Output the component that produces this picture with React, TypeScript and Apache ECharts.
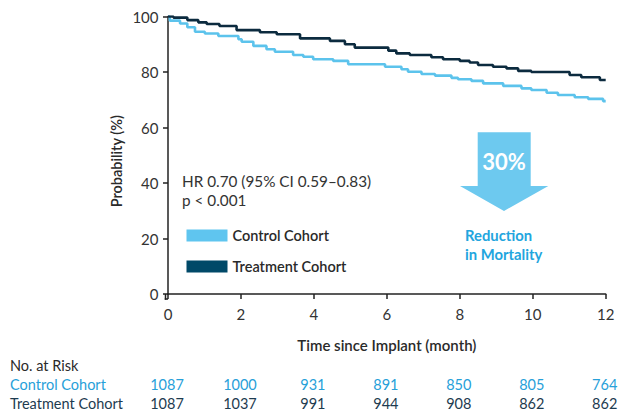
import React, { useEffect, useRef } from "react";
import * as echarts from "echarts";

// Kaplan–Meier survival estimates (months, % surviving)
const controlMonths = [0, 0.05, 0.33, 0.53, 0.74, 1.01, 1.38, 1.93, 2.02, 2.34, 2.7, 2.93, 3.43, 3.71, 3.98, 4.53, 4.94, 5.95, 6.4, 6.58, 6.95, 7.32, 7.77, 7.95, 8.32, 8.64, 9.19, 9.69, 9.96, 10.38, 10.69, 11.15, 11.52, 11.93, 12];
const controlSurvival = [100, 98.5, 97.5, 96.1, 94.5, 93.9, 93.0, 91.8, 90.9, 89.4, 88.2, 87.3, 86.1, 85.5, 84.6, 84.0, 82.8, 81.9, 81.0, 80.1, 79.3, 78.7, 77.9, 77.4, 76.8, 75.9, 75.0, 74.1, 73.5, 72.5, 71.7, 70.9, 70.3, 69.5, 69.5];

const treatmentMonths = [0, 0.15, 0.53, 0.83, 1.06, 1.41, 1.88, 2.52, 2.98, 3.62, 4.44, 4.85, 5.12, 6.04, 6.26, 6.63, 7.22, 7.54, 8.0, 8.27, 8.5, 8.91, 9.28, 9.6, 9.96, 11.01, 11.33, 11.84, 12];
const treatmentSurvival = [100, 99.6, 98.7, 97.9, 97.3, 96.6, 95.1, 94.3, 93.6, 92.1, 91.2, 90.0, 88.8, 87.7, 86.7, 86.1, 85.3, 84.6, 84.0, 83.4, 82.5, 81.9, 81.3, 80.4, 80.0, 78.9, 78.1, 77.1, 77.1];

// Number-at-risk table
const riskMonths = [0, 2, 4, 6, 8, 10, 12];
const controlAtRisk = [1087, 1000, 931, 891, 850, 805, 764];
const treatmentAtRisk = [1087, 1037, 991, 944, 908, 862, 862];

const seriesNames = ["Control Cohort", "Treatment Cohort"];
const reductionLabel = "30%";

const FONT = "Lato, 'Open Sans', sans-serif";
const CONTROL_LINE = "#5cc3ec";
const TREATMENT_LINE = "#0c2b3f";
const CONTROL_SWATCH = "#5fc5ef";
const TREATMENT_SWATCH = "#004968";
const CONTROL_TEXT = "#27a0d9";
const TREATMENT_TEXT = "#1d3b50";
const INK = "#2a2a2a";

const zip = (xs: number[], ys: number[]) => xs.map((x, i) => [x, ys[i]]);

export default function App() {
  const ref = useRef<HTMLDivElement>(null);

  useEffect(() => {
    if (!ref.current) return;
    const chart = echarts.init(ref.current, undefined, { renderer: "svg" });

    chart.setOption({
      animation: false,
      textStyle: { fontFamily: FONT },
      grid: { left: 168, right: 18.3, top: 16.5, bottom: 120 },
      xAxis: {
        type: "value",
        min: 0,
        max: 12,
        interval: 2,
        offset: 5,
        name: "Time since Implant (month)",
        nameLocation: "middle",
        nameGap: 38,
        nameTextStyle: { fontFamily: FONT, fontSize: 15, fontWeight: 600, color: INK },
        axisLine: { lineStyle: { color: "#222", width: 1.5 } },
        axisTick: { length: 5, lineStyle: { color: "#222", width: 1.5 } },
        axisLabel: { fontFamily: FONT, fontSize: 15, color: "#333", margin: 7 },
        splitLine: { show: false },
      },
      yAxis: {
        type: "value",
        min: 0,
        max: 100,
        interval: 20,
        offset: 2.5,
        axisLine: { show: true, lineStyle: { color: "#222", width: 1.5 } },
        axisTick: { show: true, length: 5, lineStyle: { color: "#222", width: 1.5 } },
        axisLabel: { fontFamily: FONT, fontSize: 15, color: "#333", margin: 7 },
        splitLine: { show: false },
      },
      legend: {
        orient: "vertical",
        left: 181.5,
        top: 223,
        itemWidth: 41,
        itemHeight: 12,
        itemGap: 16,
        icon: "rect",
        textStyle: { fontFamily: FONT, fontSize: 14.5, fontWeight: 600, color: INK, padding: [0, 0, 0, 0] },
        data: [
          { name: seriesNames[0], itemStyle: { color: CONTROL_SWATCH } },
          { name: seriesNames[1], itemStyle: { color: TREATMENT_SWATCH } },
        ],
      },
      series: [
        {
          name: seriesNames[0],
          type: "line",
          step: "end",
          showSymbol: false,
          color: CONTROL_LINE,
          lineStyle: { width: 2.6, color: CONTROL_LINE },
          data: zip(controlMonths, controlSurvival),
          z: 2,
        },
        {
          name: seriesNames[1],
          type: "line",
          step: "end",
          showSymbol: false,
          color: TREATMENT_LINE,
          lineStyle: { width: 2.6, color: TREATMENT_LINE },
          data: zip(treatmentMonths, treatmentSurvival),
          z: 3,
        },
      ],
    });

    // Pixel positions derived from the chart's own axes
    const px = (t: number) => chart.convertToPixel({ xAxisIndex: 0 }, t) as number;
    const py = (v: number) => chart.convertToPixel({ yAxisIndex: 0 }, v) as number;
    const x0 = px(0);
    const y0 = py(0);
    const yTop = py(100);

    const riskText = (values: number[], y: number, fill: string) =>
      values.map((v, i) => ({
        type: "text",
        x: px(riskMonths[i]) - 1,
        y,
        style: { text: String(v), fill, font: `14.5px ${FONT}`, align: "center", verticalAlign: "middle" },
      }));

    chart.setOption({
      graphic: [
        // close the gap where the offset axes meet
        { type: "line", shape: { x1: x0 - 2.5, y1: y0, x2: x0 - 2.5, y2: y0 + 5.75 }, style: { stroke: "#222", lineWidth: 1.5 } },
        { type: "line", shape: { x1: x0 - 3.25, y1: y0 + 5, x2: x0, y2: y0 + 5 }, style: { stroke: "#222", lineWidth: 1.5 } },
        {
          type: "text",
          x: 116.5,
          y: (yTop + y0) / 2 + 6,
          rotation: Math.PI / 2,
          style: { text: "Probability (%)", fill: INK, font: `600 14.5px ${FONT}`, align: "center", verticalAlign: "middle" },
        },
        {
          type: "text",
          x: 182,
          y: 181,
          style: { text: "HR 0.70 (95% CI 0.59–0.83)", fill: "#333", font: `15.3px ${FONT}`, verticalAlign: "middle" },
        },
        {
          type: "text",
          x: 182,
          y: 200,
          style: { text: "p < 0.001", fill: "#333", font: `15.3px ${FONT}`, verticalAlign: "middle" },
        },
        // reduction arrow
        {
          type: "polygon",
          shape: {
            points: [
              [477.7, 132.3],
              [530.7, 132.3],
              [530.7, 186],
              [548.3, 186],
              [504, 211],
              [460, 186],
              [477.7, 186],
            ],
          },
          style: { fill: "#6dc9ef" },
        },
        {
          type: "text",
          x: 504,
          y: 161,
          style: { text: reductionLabel, fill: "#ffffff", font: `bold 22px ${FONT}`, align: "center", verticalAlign: "middle" },
        },
        {
          type: "text",
          x: 465,
          y: 235,
          style: { text: "Reduction", fill: "#22a5de", font: `bold 14.8px ${FONT}`, verticalAlign: "middle" },
        },
        {
          type: "text",
          x: 465,
          y: 254,
          style: { text: "in Mortality", fill: "#22a5de", font: `bold 14.8px ${FONT}`, verticalAlign: "middle" },
        },
        // number at risk
        { type: "text", x: 10, y: 365, style: { text: "No. at Risk", fill: INK, font: `14.5px ${FONT}`, verticalAlign: "middle" } },
        { type: "text", x: 10, y: 384, style: { text: seriesNames[0], fill: CONTROL_TEXT, font: `14.5px ${FONT}`, verticalAlign: "middle" } },
        { type: "text", x: 10, y: 403, style: { text: seriesNames[1], fill: TREATMENT_TEXT, font: `14.5px ${FONT}`, verticalAlign: "middle" } },
        ...riskText(controlAtRisk, 384, CONTROL_TEXT),
        ...riskText(treatmentAtRisk, 403, TREATMENT_TEXT),
      ],
    });

    return () => chart.dispose();
  }, []);

  return (
    <div
      ref={ref}
      style={{ position: "fixed", left: 0, top: 0, width: 624, height: 414, background: "#ffffff" }}
    />
  );
}
